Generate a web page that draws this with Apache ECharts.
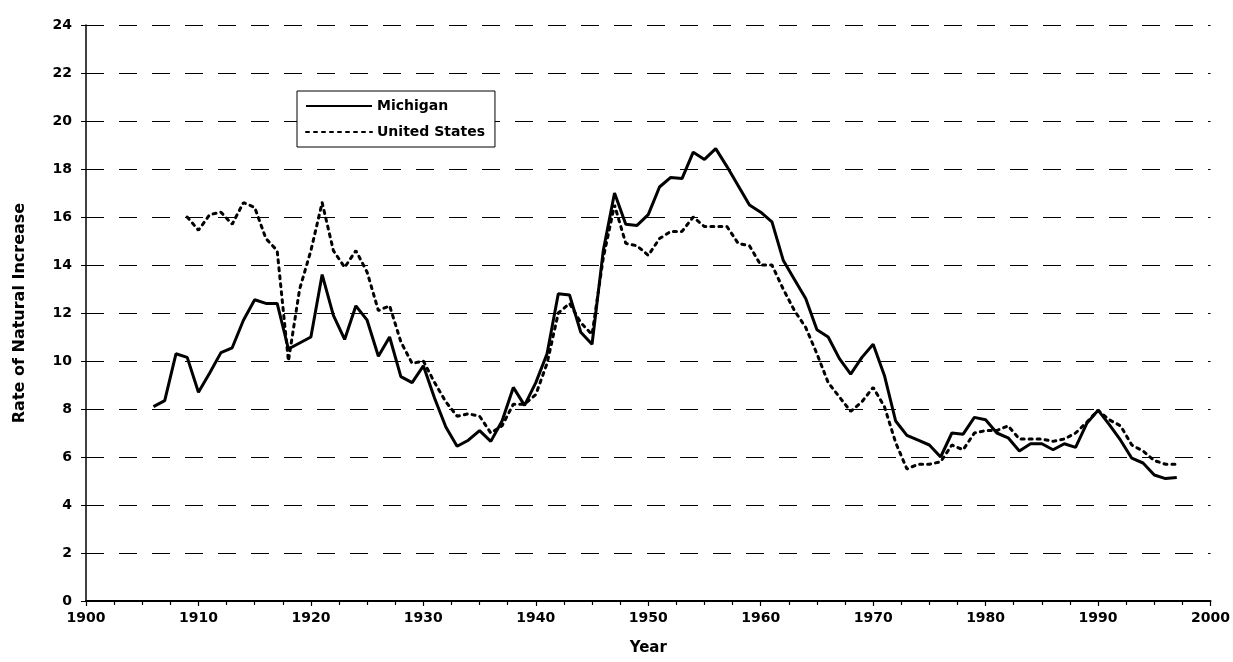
<!DOCTYPE html>
<html>
<head>
<meta charset="utf-8">
<script src="https://cdn.jsdelivr.net/npm/echarts@6/dist/echarts.min.js"></script>
<style>
  html, body { margin: 0; padding: 0; background: #fff; }
  #main { width: 1233px; height: 662px; }
</style>
</head>
<body>
<div id="main"></div>
<script>
// years and rates of natural increase
var miYears = [1906, 1907, 1908, 1909, 1910, 1911, 1912, 1913, 1914, 1915, 1916, 1917, 1918, 1919,
    1920, 1921, 1922, 1923, 1924, 1925, 1926, 1927, 1928, 1929, 1930, 1931, 1932, 1933, 1934, 1935,
    1936, 1937, 1938, 1939, 1940, 1941, 1942, 1943, 1944, 1945, 1946, 1947, 1948, 1949, 1950, 1951,
    1952, 1953, 1954, 1955, 1956, 1957, 1958, 1959, 1960, 1961, 1962, 1963, 1964, 1965, 1966, 1967,
    1968, 1969, 1970, 1971, 1972, 1973, 1974, 1975, 1976, 1977, 1978, 1979, 1980, 1981, 1982, 1983,
    1984, 1985, 1986, 1987, 1988, 1989, 1990, 1991, 1992, 1993, 1994, 1995, 1996, 1997];
var michigan = [8.1, 8.35, 10.3, 10.15, 8.7, 9.5, 10.35, 10.55, 11.7, 12.55, 12.4, 12.4, 10.5, 10.75,
    11.0, 13.6, 11.9, 10.9, 12.3, 11.7, 10.2, 11.0, 9.35, 9.1, 9.8, 8.45, 7.25, 6.45, 6.7, 7.1,
    6.65, 7.5, 8.9, 8.15, 9.1, 10.3, 12.8, 12.75, 11.2, 10.7, 14.6, 17.0, 15.7, 15.65, 16.1, 17.25,
    17.65, 17.6, 18.7, 18.4, 18.85, 18.1, 17.3, 16.5, 16.2, 15.8, 14.2, 13.4, 12.6, 11.3, 11.0, 10.1,
    9.45, 10.15, 10.7, 9.4, 7.5, 6.9, 6.7, 6.5, 6.0, 7.0, 6.95, 7.65, 7.55, 7.0, 6.8, 6.25,
    6.55, 6.55, 6.3, 6.55, 6.4, 7.4, 7.95, 7.35, 6.7, 5.95, 5.75, 5.25, 5.1, 5.15];

var usYears = [1909, 1910, 1911, 1912, 1913, 1914, 1915, 1916, 1917, 1918, 1919,
    1920, 1921, 1922, 1923, 1924, 1925, 1926, 1927, 1928, 1929, 1930, 1931, 1932, 1933, 1934, 1935,
    1936, 1937, 1938, 1939, 1940, 1941, 1942, 1943, 1944, 1945, 1946, 1947, 1948, 1949, 1950, 1951,
    1952, 1953, 1954, 1955, 1956, 1957, 1958, 1959, 1960, 1961, 1962, 1963, 1964, 1965, 1966, 1967,
    1968, 1969, 1970, 1971, 1972, 1973, 1974, 1975, 1976, 1977, 1978, 1979, 1980, 1981, 1982, 1983,
    1984, 1985, 1986, 1987, 1988, 1989, 1990, 1991, 1992, 1993, 1994, 1995, 1996, 1997];
var unitedStates = [16.0, 15.45, 16.1, 16.2, 15.7, 16.6, 16.4, 15.1, 14.6, 10.0, 13.0,
    14.6, 16.6, 14.6, 13.9, 14.6, 13.7, 12.1, 12.3, 10.8, 9.9, 10.0, 9.1, 8.3, 7.7, 7.8, 7.7,
    7.0, 7.3, 8.2, 8.2, 8.6, 9.9, 12.0, 12.4, 11.6, 11.1, 14.3, 16.5, 14.9, 14.8, 14.4, 15.1,
    15.4, 15.4, 16.0, 15.6, 15.6, 15.6, 14.9, 14.8, 14.0, 14.0, 13.0, 12.1, 11.4, 10.3, 9.1, 8.5,
    7.9, 8.3, 8.9, 8.1, 6.6, 5.5, 5.7, 5.7, 5.8, 6.5, 6.3, 7.0, 7.1, 7.1, 7.3, 6.75,
    6.75, 6.75, 6.65, 6.75, 7.0, 7.45, 7.95, 7.55, 7.3, 6.5, 6.25, 5.85, 5.7, 5.7];

function pairs(xs, ys) {
    return xs.map(function (x, i) { return [x, ys[i]]; });
}

var font = 'DejaVu Sans';
var myChart = echarts.init(document.getElementById('main'));

myChart.setOption({
    backgroundColor: '#fff',
    animation: false,
    grid: {
        left: 86,
        right: 20,
        top: 25,
        bottom: 61
    },
    legend: {
        orient: 'vertical',
        left: 297,
        top: 91,
        padding: [8, 10, 8, 8],
        itemGap: 12,
        itemWidth: 66,
        itemHeight: 12,
        borderColor: '#000',
        borderWidth: 1,
        backgroundColor: '#fff',
        itemStyle: { opacity: 0 },
        textStyle: { fontFamily: font, fontWeight: 'bold', fontSize: 14, color: '#000' },
        data: ['Michigan', 'United States']
    },
    xAxis: {
        type: 'value',
        min: 1900,
        max: 2000,
        interval: 10,
        name: 'Year',
        nameLocation: 'middle',
        nameGap: 40,
        nameTextStyle: { fontFamily: font, fontWeight: 'bold', fontSize: 15, color: '#000' },
        axisLine: { show: true, onZero: false, lineStyle: { color: '#000', width: 2 } },
        axisTick: { show: true, length: 5, lineStyle: { color: '#000', width: 1.2 } },
        minorTick: { show: true, splitNumber: 4, length: 4, lineStyle: { color: '#000', width: 1.2 } },
        axisLabel: {
            fontFamily: font, fontWeight: 'bold', fontSize: 14, color: '#000', margin: 10,
            formatter: function (v) { return String(v); }
        },
        splitLine: { show: false }
    },
    yAxis: {
        type: 'value',
        min: 0,
        max: 24,
        interval: 2,
        name: 'Rate of Natural Increase',
        nameLocation: 'middle',
        nameGap: 58,
        nameTextStyle: { fontFamily: font, fontWeight: 'bold', fontSize: 16, color: '#000' },
        axisLine: { show: true, lineStyle: { color: '#000', width: 1.5 } },
        axisTick: { show: true, length: 5, lineStyle: { color: '#000' } },
        axisLabel: { fontFamily: font, fontWeight: 'bold', fontSize: 14, color: '#000', margin: 14 },
        splitLine: { show: true, lineStyle: { color: '#000', width: 1.2, type: [18, 15] } }
    },
    series: [{
        name: 'Michigan',
        type: 'line',
        data: pairs(miYears, michigan),
        symbol: 'none',
        lineStyle: { color: '#000', width: 3 },
        itemStyle: { color: '#000' }
    }, {
        name: 'United States',
        type: 'line',
        data: pairs(usYears, unitedStates),
        symbol: 'none',
        lineStyle: { color: '#000', width: 3, type: [3, 5], cap: 'round' },
        itemStyle: { color: '#000' }
    }]
});
</script>
</body>
</html>
